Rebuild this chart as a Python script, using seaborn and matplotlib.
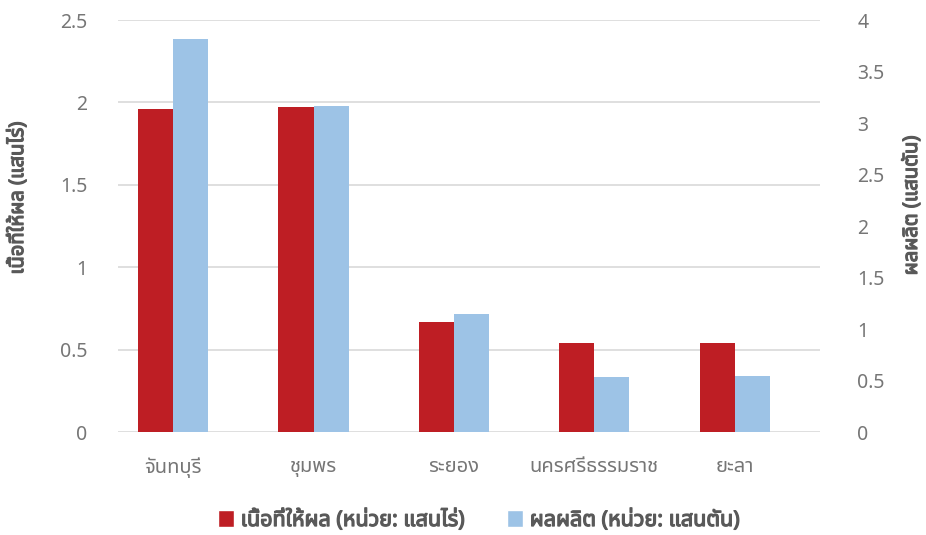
import matplotlib
matplotlib.use("Agg")
import matplotlib.pyplot as plt
import matplotlib.patheffects as pe
from matplotlib import font_manager
from matplotlib.patches import Patch
import pandas as pd
import seaborn as sns

# ---- data ----
provinces = ["จันทบุรี", "ชุมพร", "ระยอง", "นครศรีธรรมราช", "ยะลา"]
area = [1.96, 1.97, 0.67, 0.54, 0.54]          # แสนไร่ (left axis)
production = [3.82, 3.17, 1.15, 0.53, 0.54]    # แสนตัน (right axis)
series_names = ["เนื้อที่ให้ผล (หน่วย: แสนไร่)", "ผลผลิต (หน่วย: แสนตัน)"]
colors = ["#BE1E24", "#9DC3E6"]
left_ticks = [0, 0.5, 1, 1.5, 2, 2.5]
right_ticks = [0, 0.5, 1, 1.5, 2, 2.5, 3, 3.5, 4]


def find_thai_font():
    """first installed family that has Thai glyphs"""
    try:
        from fontTools.ttLib import TTFont
    except ImportError:
        return None
    found = []
    for f in font_manager.fontManager.ttflist:
        try:
            cmap = TTFont(f.fname, fontNumber=0, lazy=True).getBestCmap()
        except Exception:
            continue
        if cmap and ord("ก") in cmap:
            found.append(f.name)
    for pref in ["Noto Sans Thai", "Noto Sans Thai UI", "Tahoma", "Loma", "Garuda"]:
        if pref in found:
            return pref
    return found[0] if found else None


sns.set_theme(style="white")
thai = find_thai_font()
plt.rcParams["font.family"] = ([thai] if thai else []) + ["DejaVu Sans"]

# long table: each series only carries its own value, the other one is 0
rows = []
for p, a, q in zip(provinces, area, production):
    rows.append({"province": p, "series": series_names[0], "left": a, "right": 0.0})
    rows.append({"province": p, "series": series_names[1], "left": 0.0, "right": q})
df = pd.DataFrame(rows)

fig = plt.figure(figsize=(9.26, 5.35), dpi=100)
ax = fig.add_axes([0.1274, 0.1925, 0.758, 0.770])
ax2 = ax.twinx()

sns.barplot(data=df, x="province", y="left", hue="series", hue_order=series_names,
            palette=colors, order=provinces, width=0.5, saturation=1,
            linewidth=0, ax=ax, legend=False)
sns.barplot(data=df, x="province", y="right", hue="series", hue_order=series_names,
            palette=colors, order=provinces, width=0.5, saturation=1,
            linewidth=0, ax=ax2, legend=False)

label_grey = "#595959"
tick_grey = "#767676"
bold = [pe.withStroke(linewidth=0.9, foreground=label_grey)]

ax.set_ylim(0, 2.5)
ax.set_yticks(left_ticks)
ax.set_yticklabels([f"{t:g}" for t in left_ticks])
ax2.set_ylim(0, 4)
ax2.set_yticks(right_ticks)
ax2.set_yticklabels([f"{t:g}" for t in right_ticks])
# categories sit a little left of the plot-area centre in the original
ax.set_xlim(-0.393, 4.607)

ax.yaxis.grid(True, color="#D9D9D9", linewidth=1.2)
ax.set_axisbelow(True)
for a in (ax, ax2):
    for s in a.spines.values():
        s.set_visible(False)
    a.tick_params(length=0, labelsize=14, colors=tick_grey)
ax.tick_params(axis="y", pad=22)
ax2.tick_params(axis="y", pad=27)
ax.tick_params(axis="x", pad=18, labelsize=14.5)

ax.set_xlabel("")
ax.set_ylabel("เนื้อที่ให้ผล (แสนไร่)", fontsize=14.5, color=label_grey, path_effects=bold)
ax2.set_ylabel("ผลผลิต (แสนตัน)", fontsize=14.5, color=label_grey, rotation=90,
               path_effects=bold)
ax.yaxis.set_label_coords(-0.128, 0.568)
ax2.yaxis.set_label_coords(1.117, 0.55)

handles = [Patch(facecolor=c, label=n) for c, n in zip(colors, series_names)]
leg = fig.legend(handles=handles, loc="center", bbox_to_anchor=(0.517, 0.028), ncol=2,
                 frameon=False, prop={"size": 15.5},
                 handlelength=0.75, handleheight=0.85, handletextpad=0.3,
                 columnspacing=2.0, labelcolor=label_grey)
for t in leg.get_texts():
    t.set_path_effects(bold)

fig.savefig("out.png", dpi=100)
